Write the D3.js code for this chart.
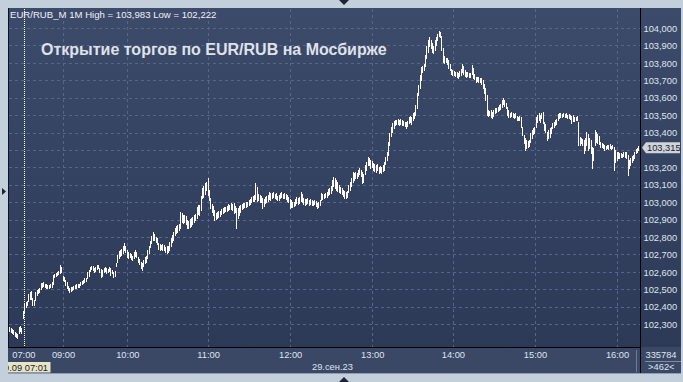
<!DOCTYPE html>
<html><head><meta charset="utf-8">
<script src="https://cdn.jsdelivr.net/npm/d3@7"></script>
<style>
html,body{margin:0;padding:0;background:#c3cfdb;overflow:hidden;}
svg{display:block;}
text{font-family:"Liberation Sans",Arial,sans-serif;}
</style></head><body>
<svg id="chart" width="683" height="382"></svg>
<script>
// ---- data (1-minute bars, EUR/RUB_M, 28.09 evening + 29.09 morning) ----
const barHigh = [
102.286,102.281,102.275,102.269,102.258,102.252,102.246,102.286,102.292,102.281,
102.378,102.424,102.430,102.436,102.476,102.487,102.493,102.453,102.441,102.487,
102.499,102.504,102.510,102.539,102.539,102.545,102.533,102.533,102.527,102.527,
102.533,102.545,102.585,102.591,102.596,102.602,102.608,102.642,102.631,102.579,
102.573,102.556,102.545,102.522,102.510,102.516,102.516,102.522,102.527,102.533,
102.533,102.533,102.545,102.550,102.556,102.568,102.568,102.602,102.614,102.631,
102.637,102.637,102.625,102.631,102.642,102.642,102.625,102.619,102.614,102.625,
102.631,102.625,102.619,102.631,102.625,102.614,102.602,102.608,102.654,102.700,
102.723,102.728,102.734,102.751,102.769,102.751,102.728,102.717,102.711,102.706,
102.694,102.717,102.728,102.717,102.688,102.677,102.660,102.654,102.671,102.688,
102.694,102.728,102.751,102.780,102.809,102.832,102.820,102.803,102.797,102.769,
102.763,102.757,102.763,102.757,102.746,102.751,102.751,102.774,102.797,102.815,
102.832,102.855,102.866,102.872,102.878,102.947,102.941,102.929,102.929,102.924,
102.901,102.895,102.906,102.912,102.918,102.929,102.935,102.975,102.987,102.987,
103.038,103.084,103.096,103.113,103.119,103.142,103.073,103.027,102.993,102.981,
102.958,102.941,102.947,102.952,102.952,102.964,102.970,102.975,102.975,102.981,
102.993,102.987,102.998,102.993,102.998,102.981,102.970,102.970,102.981,102.987,
102.993,102.998,102.998,103.004,103.004,103.015,103.021,103.033,103.038,103.044,
103.113,103.090,103.050,103.044,103.038,103.027,103.021,103.033,103.038,103.044,
103.061,103.056,103.056,103.061,103.050,103.056,103.038,103.044,103.056,103.061,
103.050,103.056,103.050,103.044,103.033,103.021,103.015,103.004,103.004,103.021,
103.033,103.027,103.033,103.061,103.050,103.027,103.021,103.021,103.027,103.015,
103.021,103.015,103.010,103.015,103.010,102.998,103.004,103.015,103.056,103.050,
103.050,103.056,103.061,103.079,103.084,103.096,103.130,103.147,103.142,103.130,
103.119,103.101,103.090,103.084,103.073,103.067,103.061,103.067,103.101,103.119,
103.142,103.176,103.170,103.176,103.170,103.188,103.199,103.188,103.176,103.165,
103.216,103.234,103.262,103.257,103.245,103.239,103.228,103.222,103.216,103.222,
103.205,103.211,103.205,103.216,103.234,103.262,103.291,103.348,103.400,103.435,
103.457,103.469,103.475,103.475,103.480,103.475,103.480,103.475,103.469,103.463,
103.463,103.469,103.492,103.498,103.492,103.515,103.521,103.561,103.630,103.676,
103.733,103.779,103.785,103.796,103.848,103.900,103.934,103.951,103.934,103.917,
103.900,103.934,103.951,103.968,103.983,103.980,103.957,103.888,103.842,103.831,
103.831,103.819,103.796,103.767,103.762,103.756,103.750,103.750,103.744,103.756,
103.767,103.796,103.785,103.762,103.750,103.750,103.744,103.744,103.790,103.773,
103.739,103.721,103.721,103.721,103.716,103.716,103.704,103.681,103.659,103.618,
103.532,103.526,103.532,103.521,103.532,103.544,103.544,103.549,103.561,103.567,
103.590,103.601,103.590,103.572,103.549,103.532,103.515,103.521,103.515,103.509,
103.515,103.498,103.492,103.498,103.492,103.435,103.388,103.371,103.360,103.354,
103.360,103.400,103.417,103.429,103.435,103.492,103.503,103.515,103.503,103.515,
103.521,103.463,103.452,103.406,103.417,103.429,103.435,103.457,103.463,103.475,
103.480,103.509,103.515,103.515,103.509,103.515,103.509,103.515,103.503,103.509,
103.503,103.498,103.503,103.492,103.492,103.498,103.463,103.377,103.371,103.366,
103.360,103.371,103.406,103.394,103.371,103.360,103.320,103.314,103.417,103.406,
103.394,103.383,103.348,103.343,103.337,103.331,103.325,103.331,103.331,103.337,
103.325,103.331,103.320,103.302,103.291,103.291,103.285,103.285,103.280,103.291,
103.291,103.291,103.274,103.245,103.257,103.268,103.274,103.291,103.308,103.314,
103.325,103.331
];
const barLow = [
102.263,102.258,102.252,102.246,102.235,102.229,102.222,102.252,102.263,102.252,
102.338,102.372,102.401,102.413,102.436,102.447,102.447,102.413,102.413,102.441,
102.470,102.482,102.487,102.504,102.516,102.522,102.516,102.510,102.510,102.510,
102.516,102.516,102.533,102.573,102.579,102.585,102.591,102.596,102.602,102.556,
102.550,102.527,102.510,102.499,102.487,102.493,102.499,102.504,102.510,102.510,
102.516,102.516,102.527,102.533,102.539,102.545,102.550,102.568,102.579,102.608,
102.619,102.614,102.602,102.608,102.619,102.625,102.602,102.573,102.579,102.602,
102.608,102.596,102.602,102.608,102.585,102.596,102.573,102.579,102.637,102.660,
102.683,102.694,102.700,102.711,102.728,102.717,102.688,102.683,102.688,102.677,
102.671,102.683,102.694,102.688,102.660,102.648,102.625,102.614,102.637,102.654,
102.660,102.683,102.711,102.746,102.769,102.786,102.786,102.774,102.763,102.734,
102.728,102.734,102.728,102.728,102.717,102.711,102.717,102.728,102.751,102.774,
102.786,102.815,102.826,102.832,102.843,102.855,102.889,102.884,102.889,102.878,
102.855,102.855,102.861,102.866,102.878,102.889,102.901,102.912,102.935,102.929,
102.958,103.027,103.033,103.050,103.073,103.044,103.015,102.970,102.947,102.929,
102.901,102.906,102.912,102.918,102.924,102.935,102.941,102.947,102.952,102.952,
102.958,102.964,102.964,102.958,102.941,102.947,102.855,102.912,102.929,102.947,
102.964,102.970,102.975,102.975,102.981,102.987,102.993,103.004,103.010,103.010,
103.021,103.010,103.015,103.004,103.004,102.970,102.981,102.998,103.004,103.010,
103.021,103.015,103.027,103.033,103.027,103.021,103.015,103.015,103.027,103.033,
103.027,103.027,103.021,103.010,103.004,102.970,102.975,102.975,102.981,102.987,
102.998,102.993,102.998,103.010,103.004,102.993,102.987,102.993,102.998,102.987,
102.993,102.987,102.987,102.993,102.981,102.970,102.975,102.987,103.015,103.021,
103.027,103.033,103.033,103.044,103.050,103.056,103.073,103.096,103.084,103.073,
103.067,103.061,103.056,103.050,103.038,103.027,103.027,103.033,103.061,103.073,
103.096,103.119,103.130,103.142,103.142,103.153,103.165,103.153,103.113,103.119,
103.165,103.188,103.216,103.216,103.199,103.205,103.188,103.182,103.176,103.188,
103.170,103.176,103.170,103.182,103.188,103.222,103.245,103.274,103.331,103.383,
103.406,103.429,103.446,103.452,103.452,103.446,103.452,103.446,103.446,103.440,
103.429,103.440,103.457,103.463,103.452,103.475,103.486,103.503,103.544,103.618,
103.659,103.704,103.750,103.762,103.785,103.830,103.865,103.900,103.888,103.865,
103.859,103.877,103.905,103.934,103.957,103.951,103.877,103.808,103.802,103.808,
103.796,103.773,103.762,103.739,103.733,103.733,103.727,103.721,103.716,103.727,
103.733,103.750,103.739,103.727,103.721,103.727,103.721,103.721,103.739,103.716,
103.710,103.693,103.698,103.693,103.693,103.681,103.659,103.630,103.590,103.503,
103.498,103.503,103.492,103.486,103.498,103.515,103.521,103.526,103.532,103.538,
103.549,103.567,103.555,103.544,103.503,103.492,103.492,103.498,103.492,103.486,
103.492,103.475,103.475,103.475,103.435,103.388,103.343,103.302,103.314,103.320,
103.325,103.348,103.371,103.394,103.400,103.435,103.463,103.475,103.463,103.486,
103.457,103.417,103.406,103.360,103.371,103.377,103.400,103.429,103.435,103.446,
103.452,103.475,103.486,103.492,103.492,103.498,103.492,103.492,103.486,103.486,
103.480,103.457,103.469,103.469,103.475,103.475,103.331,103.331,103.343,103.331,
103.285,103.302,103.331,103.302,103.314,103.285,103.199,103.245,103.331,103.348,
103.343,103.337,103.320,103.320,103.314,103.302,103.308,103.314,103.308,103.314,
103.308,103.314,103.188,103.234,103.245,103.257,103.257,103.262,103.262,103.268,
103.262,103.257,103.159,103.199,103.216,103.234,103.245,103.257,103.285,103.291,
103.302,103.308
];
const hourLabels = ["07:00","09:00","10:00","11:00","12:00","13:00","14:00","15:00","16:00"];
const hourBars   = [10, 39, 86, 145, 205, 265, 324, 384, 444];
const priceTicks = [102.3,102.4,102.5,102.6,102.7,102.8,102.9,103.0,103.1,103.2,103.3,103.4,103.5,103.6,103.7,103.8,103.9,104.0];
const titleText  = "Открытие торгов по EUR/RUB на Мосбирже";
const headerText = "EUR/RUB_M 1M High = 103,983 Low = 102,222";
const lastPrice  = 103.315;
const dateLabel  = "29.сен.23";
const cursorLabel = "29.09 07:01";
const volumeText = "335784";
const barsText   = ">462<";

// ---- layout ----
const P = {l: 9, r: 641, t: 9, b: 347};
const svg = d3.select("#chart");
const ru = d3.formatLocale({decimal: ",", thousands: " ", grouping: [3], currency: ["", ""]});
const fmt = ru.format(".3f");

const x = d3.scaleLinear().domain([-0.5, barHigh.length - 0.5]).range([P.l, P.r]);
const y = d3.scaleLinear().domain([102.3, 104.0]).range([324.6, 28.5]);
const ly = y(lastPrice);

const defs = svg.append("defs");
const g1 = defs.append("linearGradient").attr("id", "bg").attr("x1", 0).attr("y1", 0).attr("x2", 0).attr("y2", 1);
g1.append("stop").attr("offset", 0).attr("stop-color", "#3d4b6b");
g1.append("stop").attr("offset", 1).attr("stop-color", "#2c3957");
defs.append("clipPath").attr("id", "cur").append("rect").attr("x", 8).attr("y", 362).attr("width", 42.5).attr("height", 10.5);

svg.append("rect").attr("width", 683).attr("height", 382).attr("fill", "#c3cfdb");
svg.append("rect").attr("x", 8).attr("y", 8).attr("width", 673).attr("height", 339).attr("fill", "url(#bg)");
svg.append("rect").attr("x", 8).attr("y", 347).attr("width", 673).attr("height", 26).attr("fill", "#3a4866");
svg.append("line").attr("x1", 8).attr("x2", 681).attr("y1", 373.5).attr("y2", 373.5).attr("stroke", "#8d9fb5");

// grid
const grid = svg.append("g").attr("stroke", "#56668a").attr("stroke-dasharray", "3,3").attr("stroke-width", 1);
grid.selectAll("line.h").data(priceTicks).join("line").attr("class", "h")
  .attr("x1", P.l).attr("x2", P.r).attr("y1", d => Math.floor(y(d)) + 0.5).attr("y2", d => Math.floor(y(d)) + 0.5);
grid.selectAll("line.v").data(hourBars.slice(1)).join("line").attr("class", "v")
  .attr("y1", P.t).attr("y2", P.b).attr("x1", d => Math.round(x(d)) + 0.5).attr("x2", d => Math.round(x(d)) + 0.5);
// day separator (dotted white)
svg.append("line").attr("x1", Math.ceil(x(hourBars[0])) + 0.5).attr("x2", Math.ceil(x(hourBars[0])) + 0.5)
  .attr("y1", P.t).attr("y2", P.b).attr("stroke", "#ffffff").attr("stroke-dasharray", "1,1");

// bars
const bars = barHigh.map((h, i) => ({i, h, l: barLow[i]}));
svg.append("g").attr("fill", "#fffcf6").selectAll("rect").data(bars).join("rect")
  .attr("x", d => Math.floor(x(d.i)))
  .attr("width", 1)
  .attr("y", d => Math.round(y(d.h)))
  .attr("height", d => Math.max(1, Math.round(y(d.l)) - Math.round(y(d.h)) + 1));

// borders
svg.append("line").attr("x1", 8.5).attr("x2", 8.5).attr("y1", 8).attr("y2", 347).attr("stroke", "#0d1220");
svg.append("line").attr("x1", 8).attr("x2", 641).attr("y1", 347.5).attr("y2", 347.5).attr("stroke", "#000");
svg.append("line").attr("x1", 640.5).attr("x2", 640.5).attr("y1", 8).attr("y2", 373).attr("stroke", "#000");

// right axis (the label hidden under the last-price marker is not drawn, as in the reference)
const axisTicks = priceTicks.filter(v => Math.abs(y(v) - ly) > 6);
const ay = svg.append("g").attr("transform", "translate(641,0)")
  .call(d3.axisRight(y).tickValues(axisTicks).tickFormat(fmt).tickSize(0).tickPadding(2.5));
ay.select(".domain").remove();
ay.selectAll("text").attr("fill", "#dfe5ee").attr("font-size", "9.3px").attr("font-family", "Liberation Sans, Arial, sans-serif")
  .attr("transform", "translate(0,-0.3)");

// bottom axis
const ax = svg.append("g").attr("transform", "translate(0,347)")
  .call(d3.axisBottom(x).tickValues(hourBars).tickFormat((d, i) => hourLabels[i]).tickSize(0).tickPadding(4.4));
ax.select(".domain").remove();
ax.selectAll("text").attr("fill", "#dfe5ee").attr("font-size", "9.3px").attr("font-family", "Liberation Sans, Arial, sans-serif");

// header + title
svg.append("text").attr("x", 10).attr("y", 18).attr("fill", "#eef1f6").attr("font-size", "9.6px").text(headerText);
svg.append("text").attr("x", 41).attr("y", 55).attr("fill", "#dfe2e8").attr("font-size", "16px").attr("font-weight", "bold").text(titleText);

// last price marker
svg.append("path").attr("d", `M642,${ly} L646,${ly - 5.5} L680,${ly - 5.5} L680,${ly + 5.5} L646,${ly + 5.5} Z`).attr("fill", "#cfd3da");
svg.append("text").attr("x", 647).attr("y", ly + 3.3).attr("fill", "#1a2030").attr("font-size", "9.3px").text(fmt(lastPrice));

// cursor date label
svg.append("rect").attr("x", 8).attr("y", 362).attr("width", 42.5).attr("height", 10.5).attr("fill", "#e8e5c5");
svg.append("text").attr("clip-path", "url(#cur)").attr("x", 48).attr("y", 370.5).attr("text-anchor", "end")
  .attr("fill", "#1b2233").attr("font-size", "9.3px").text(cursorLabel);
svg.append("text").attr("x", 312).attr("y", 369.5).attr("fill", "#dfe5ee").attr("font-size", "9.3px").text(dateLabel);

// volume / bar count box
svg.append("line").attr("x1", 636.5).attr("x2", 636.5).attr("y1", 350).attr("y2", 372).attr("stroke", "#6f7d95");
svg.append("line").attr("x1", 645).attr("x2", 681).attr("y1", 361.5).attr("y2", 361.5).attr("stroke", "#7f8ca2");
svg.append("text").attr("x", 661).attr("y", 357.7).attr("text-anchor", "middle").attr("fill", "#dfe5ee").attr("font-size", "9.3px").text(volumeText);
svg.append("text").attr("x", 661.3).attr("y", 370).attr("text-anchor", "middle").attr("fill", "#dfe5ee").attr("font-size", "9.3px").text(barsText);

// scroll triangles
svg.append("path").attr("d", "M339,0 L349,0 L344,5 Z").attr("fill", "#1d2435");
svg.append("path").attr("d", "M339,382 L349,382 L344,377 Z").attr("fill", "#1d2435");
svg.append("path").attr("d", "M2,188 L2,195 L6,191.5 Z").attr("fill", "#1d2435");
</script>
</body></html>
